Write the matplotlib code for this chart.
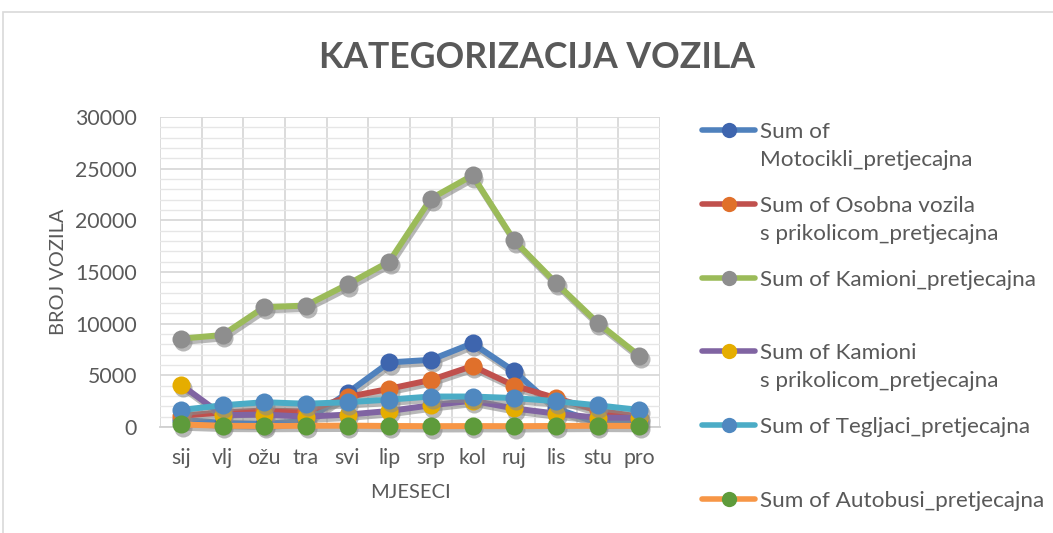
import matplotlib
matplotlib.use("Agg")
import matplotlib.pyplot as plt
from matplotlib.lines import Line2D
from matplotlib.patches import Rectangle
from matplotlib.ticker import MultipleLocator
from matplotlib.transforms import offset_copy

plt.rcParams['font.family'] = ['Lato', 'DejaVu Sans']

months = ["sij", "vlj", "ožu", "tra", "svi", "lip", "srp", "kol", "ruj", "lis", "stu", "pro"]

motocikli = [700, 400, 300, 600, 3300, 6250, 6500, 8100, 5400, 1800, 400, 500]
osobna_prikolica = [1100, 1400, 1600, 1500, 2900, 3700, 4550, 5900, 4000, 2800, 1600, 1000]
kamioni = [8550, 8900, 11600, 11750, 13800, 16000, 22100, 24350, 18050, 13950, 10100, 6900]
kamioni_prikolica = [4100, 1150, 1200, 1000, 1200, 1550, 2100, 2550, 1800, 1300, 900, 900]
tegljaci = [1650, 2100, 2400, 2250, 2400, 2650, 2950, 2950, 2800, 2500, 2100, 1650]
autobusi = [250, 120, 100, 120, 130, 100, 80, 90, 80, 100, 120, 100]

series = [
    ("Sum of\nMotocikli_pretjecajna", motocikli, "#4F81BD", "#3E65AE"),
    ("Sum of Osobna vozila\ns prikolicom_pretjecajna", osobna_prikolica, "#C0504D", "#E0702B"),
    ("Sum of Kamioni_pretjecajna", kamioni, "#9BBB59", "#8E8E8E"),
    ("Sum of Kamioni\ns prikolicom_pretjecajna", kamioni_prikolica, "#8064A2", "#E5AD00"),
    ("Sum of Tegljaci_pretjecajna", tegljaci, "#4BACC6", "#4F88C0"),
    ("Sum of Autobusi_pretjecajna", autobusi, "#F79646", "#5E9B3B"),
]

W, H = 1053, 533
fig = plt.figure(figsize=(W / 100, H / 100), dpi=100)
text_color = "#595959"

# outer chart frame
fig.patches.append(Rectangle((3 / W, -0.05), 1.2, (H - 12) / H + 0.05,
                             transform=fig.transFigure, fill=False,
                             edgecolor="#D9D9D9", linewidth=1.2))

ax = fig.add_axes([160 / W, (H - 427) / H, 500 / W, 310 / H])
x = list(range(len(months)))

# each series gets a soft grey drop shadow drawn just beneath it
shadow_tr = offset_copy(ax.transData, fig=fig, x=1.2, y=-2.4, units="points")
for i, (label, vals, lc, mc) in enumerate(series):
    ax.plot(x, vals, color="#8A8A8A", alpha=0.6, linewidth=4.3, marker="o",
            markersize=13, markeredgewidth=0, solid_capstyle="round",
            transform=shadow_tr, clip_on=False, zorder=3 + 2 * i)
    ax.plot(x, vals, color=lc, linewidth=4.3, marker="o", markersize=13,
            markerfacecolor=mc, markeredgecolor=mc, markeredgewidth=0,
            solid_capstyle="round", clip_on=False, zorder=4 + 2 * i)

ax.set_xlim(-0.5, len(months) - 0.5)
ax.set_ylim(0, 30000)
ax.yaxis.set_major_locator(MultipleLocator(5000))
ax.yaxis.set_minor_locator(MultipleLocator(1000))
ax.set_xticks(x)
ax.set_xticklabels(months)
ax.set_xticks([i - 0.5 for i in range(len(months) + 1)], minor=True)

ax.grid(which="major", axis="y", color="#D9D9D9", linewidth=1.3)
ax.grid(which="minor", axis="y", color="#E6E6E6", linewidth=1.0)
ax.grid(which="minor", axis="x", color="#D9D9D9", linewidth=1.3)
ax.set_axisbelow(True)

for side in ("top", "right", "left"):
    ax.spines[side].set_visible(False)
ax.spines["bottom"].set_color("#D0D0D0")
ax.spines["bottom"].set_linewidth(1.3)

ax.tick_params(axis="both", which="both", length=0, labelsize=15.3, labelcolor=text_color)
ax.tick_params(axis="y", pad=16.5)
ax.tick_params(axis="x", pad=15)

ax.set_xlabel("MJESECI", fontsize=14.5, color=text_color, labelpad=12)
ax.set_ylabel("BROJ VOZILA", fontsize=14.4, color=text_color, labelpad=6)

fig.text(537 / W, 1 - 58 / H, "KATEGORIZACIJA VOZILA", ha="center", va="center",
         fontsize=25.6, fontweight="bold", color=text_color)

# legend on the right, one two-line slot per series
for i, (label, vals, lc, mc) in enumerate(series):
    yc = 1 - (130 + 73.8 * i) / H
    fig.add_artist(Line2D([702 / W, 755 / W], [yc, yc], transform=fig.transFigure,
                          color=lc, linewidth=4.0, solid_capstyle="round"))
    fig.add_artist(Line2D([729 / W], [yc], transform=fig.transFigure, marker="o",
                          markersize=11, markeredgewidth=0, color=mc, linestyle="none"))
    fig.text(760 / W, yc, label.split("\n")[0], ha="left", va="center_baseline",
             fontsize=16.2, color=text_color)
    if "\n" in label:
        fig.text(760 / W, yc - 28 / H, label.split("\n")[1], ha="left",
                 va="center_baseline", fontsize=16.2, color=text_color)

fig.savefig("out.png", dpi=100)
